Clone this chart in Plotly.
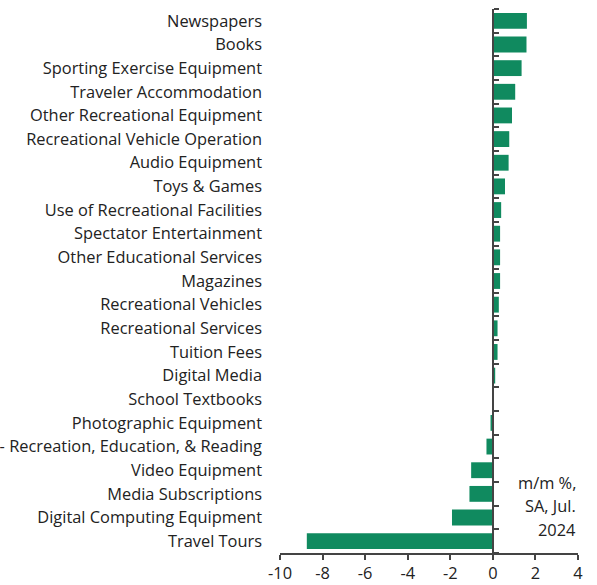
import plotly.graph_objects as go

categories = [
    "Newspapers", "Books", "Sporting Exercise Equipment", "Traveler Accommodation",
    "Other Recreational Equipment", "Recreational Vehicle Operation", "Audio Equipment",
    "Toys & Games", "Use of Recreational Facilities", "Spectator Entertainment",
    "Other Educational Services", "Magazines", "Recreational Vehicles",
    "Recreational Services", "Tuition Fees", "Digital Media", "School Textbooks",
    "Photographic Equipment", "Total - Recreation, Education, & Reading",
    "Video Equipment", "Media Subscriptions", "Digital Computing Equipment", "Travel Tours",
]
values = [
    1.60, 1.58, 1.35, 1.05, 0.90, 0.77, 0.74, 0.57, 0.39, 0.34, 0.34, 0.34,
    0.28, 0.22, 0.22, 0.11, -0.02, -0.11, -0.30, -1.02, -1.10, -1.92, -8.74,
]
x_ticks = [-10, -8, -6, -4, -2, 0, 2, 4]
x_tick_text = ["-10", "-8", "-6", "-4", "-2", "0", "2", "4"]
note_lines = ["m/m %,", "SA, Jul.", "2024"]

x_min, x_max = -10, 4
n = len(categories)

fig = go.Figure()
fig.add_trace(go.Bar(
    x=values,
    y=categories,
    orientation="h",
    marker=dict(color="#108a5f", line=dict(width=0)),
    hoverinfo="x+y",
))
# empty trace so the zero-line axis (y2) gets drawn
fig.add_trace(go.Scatter(x=[None], y=[None], yaxis="y2", mode="markers",
                         hoverinfo="skip", showlegend=False))

axis_col = "#444444"
fig.update_layout(
    width=597, height=585,
    margin=dict(l=280, r=19, t=9, b=32),
    paper_bgcolor="white", plot_bgcolor="white",
    font=dict(family="Open Sans", size=16.4, color="#222222"),
    showlegend=False,
    bargap=0.33,
    xaxis=dict(
        range=[x_min, x_max], tickvals=x_ticks, ticktext=x_tick_text,
        ticks="outside", ticklen=5, tickwidth=1.5, tickcolor=axis_col,
        showline=True, linecolor=axis_col, linewidth=1.5, showgrid=False,
        zeroline=False, fixedrange=True, automargin=False,
    ),
    yaxis=dict(
        categoryorder="array", categoryarray=categories[::-1],
        ticks="", showline=False, showgrid=False, automargin=False,
        ticklabelstandoff=17, fixedrange=True,
    ),
    # axis line at zero with ticks between categories
    yaxis2=dict(
        overlaying="y", anchor="free", side="right",
        position=(0 - x_min) / (x_max - x_min),
        range=[-0.5, n - 0.5],
        tickvals=[i - 0.5 for i in range(n + 1)],
        showticklabels=False, ticks="outside", ticklen=5, tickwidth=1.5,
        tickcolor=axis_col, showline=True, linecolor=axis_col, linewidth=1.5,
        showgrid=False, zeroline=False, fixedrange=True, automargin=False,
    ),
)

# unit note, one annotation per line to get the wider line spacing
for i, line in enumerate(note_lines):
    fig.add_annotation(
        text=line, x=1, y=0.1305 - i * 0.0441, xref="paper", yref="paper",
        xanchor="right", yanchor="middle", align="right", showarrow=False,
        font=dict(size=16.4, color="#222222"),
    )

# drop the browser's default 8px body margin so the figure fills the window
fig.write_html("out.html", config={"displayModeBar": False},
               post_script="document.body.style.margin='0';")
